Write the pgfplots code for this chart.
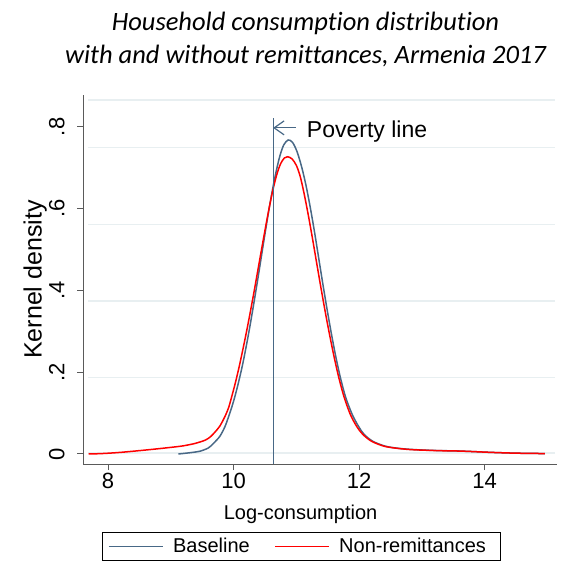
\documentclass[border=0pt]{standalone}
\usepackage{fontspec}
\setmainfont{Liberation Sans}
\newfontfamily\titlefont[Ligatures=NoCommon]{Carlito}
\usepackage{pgfplots}
\pgfplotsset{compat=1.18}
\usetikzlibrary{arrows.meta}

\definecolor{slate}{RGB}{72,104,134}
\definecolor{gridc}{RGB}{232,239,241}
\definecolor{axisc}{RGB}{90,90,90}

\begin{document}
\begin{tikzpicture}
\begin{scope}
\clip (0,0) rectangle (569pt,562pt);

% two-line italic title
\node[anchor=base, font=\titlefont\itshape\fontsize{26.5}{30}\selectfont, inner sep=0pt]
  at (305.5pt,531.3pt) {Household consumption distribution};
\node[anchor=base, font=\titlefont\itshape\fontsize{26.5}{30}\selectfont, inner sep=0pt]
  at (305.5pt,498.7pt) {with and without remittances, Armenia 2017};

\begin{axis}[
  at={(83pt,98pt)}, anchor=south west,
  scale only axis, width=474pt, height=369pt,
  xmin=7.6, xmax=15.155, ymin=-0.0245, ymax=0.878,
  axis x line*=bottom, axis y line*=left,
  axis line style={-, draw=axisc, line width=1pt},
  tick style={draw=axisc, line width=1pt},
  tick align=outside, major tick length=6pt,
  xtick={8,10,12,14}, xticklabels={8,10,12,14},
  ytick={0,0.2,0.4,0.6,0.8}, yticklabels={0,.2,.4,.6,.8},
  xticklabel style={font=\fontsize{22}{26}\selectfont},
  yticklabel style={font=\fontsize{22}{26}\selectfont, xshift=-9pt, rotate=90, anchor=south},
  xlabel={Log-consumption},
  ylabel={Kernel density},
  xlabel style={font=\fontsize{20}{24}\selectfont, at={(axis description cs:0.459,-0.1499)}, anchor=base},
  ylabel style={font=\fontsize{25}{30}\selectfont, at={(axis description cs:-0.0871,0.5)}, anchor=base},
  legend columns=2,
  legend style={at={(axis description cs:0.0395,-0.1835)}, anchor=north west,
    draw=black, line width=0.8pt, font=\fontsize{20}{24}\selectfont,
    inner xsep=6.3pt, inner ysep=6pt,
    nodes={inner sep=0pt},
    /tikz/every odd column/.append style={column sep=9.7pt},
    /tikz/every even column/.append style={column sep=24.7pt}},
  grid line/.style={draw=gridc, line width=1.2pt, forget plot},
]

% light horizontal rules of the plot region
\addplot[grid line] coordinates {(7.68,0.0024) (15.12,0.0024)};
\addplot[grid line] coordinates {(7.68,0.188) (15.12,0.188)};
\addplot[grid line] coordinates {(7.68,0.374) (15.12,0.374)};
\addplot[grid line] coordinates {(7.68,0.561) (15.12,0.561)};
\addplot[grid line] coordinates {(7.68,0.749) (15.12,0.749)};
\addplot[grid line] coordinates {(7.68,0.866) (15.12,0.866)};

% baseline consumption density
\addplot[draw=slate, line width=1.5pt, smooth,
  legend image code/.code={\draw[draw=slate, line width=1pt] (0pt,0pt) -- (54pt,0pt);}]
  coordinates {
 (9.12,0) (9.30,0.003) (9.47,0.007) (9.60,0.015) (9.68,0.026) (9.78,0.043)
 (9.86,0.066) (9.92,0.091) (9.97,0.114) (10.02,0.140) (10.08,0.176) (10.14,0.216)
 (10.20,0.262) (10.26,0.312) (10.32,0.366) (10.38,0.422) (10.44,0.480) (10.50,0.538)
 (10.56,0.594) (10.62,0.646) (10.68,0.692) (10.74,0.730) (10.80,0.756) (10.87,0.768)
 (10.94,0.762) (11.01,0.740) (11.08,0.705) (11.15,0.660) (11.22,0.605) (11.29,0.543)
 (11.36,0.476) (11.43,0.409) (11.50,0.345) (11.57,0.285) (11.64,0.230) (11.71,0.182)
 (11.79,0.137) (11.89,0.097) (11.99,0.068) (12.08,0.048) (12.22,0.031) (12.42,0.019)
 (12.62,0.014) (12.80,0.0115) (13.0,0.0098) (13.3,0.0082) (13.56,0.0075) (13.8,0.006)
 (14.09,0.004) (14.5,0.002) (14.96,0.001)
};
\addlegendentry{Baseline}

% density without remittances
\addplot[draw=red, line width=1.5pt, smooth,
  legend image code/.code={\draw[draw=red, line width=1pt] (0pt,0pt) -- (54pt,0pt);}]
  coordinates {
 (7.69,0) (7.9,0.001) (8.2,0.004) (8.62,0.010) (8.99,0.016) (9.2,0.020) (9.39,0.026)
 (9.55,0.034) (9.63,0.042) (9.70,0.053) (9.78,0.068) (9.86,0.091) (9.92,0.113)
 (9.97,0.140) (10.03,0.175) (10.09,0.214) (10.15,0.257) (10.21,0.302) (10.27,0.350)
 (10.33,0.400) (10.39,0.452) (10.45,0.504) (10.51,0.555) (10.57,0.604) (10.63,0.648)
 (10.69,0.684) (10.75,0.710) (10.81,0.724) (10.86,0.727) (10.93,0.722) (11.00,0.706)
 (11.06,0.680) (11.12,0.640) (11.19,0.585) (11.26,0.525) (11.33,0.462) (11.40,0.400)
 (11.47,0.340) (11.54,0.284) (11.61,0.232) (11.68,0.185) (11.76,0.140) (11.86,0.097)
 (11.96,0.068) (12.06,0.048) (12.2,0.031) (12.4,0.019) (12.6,0.014) (12.8,0.011)
 (13.0,0.0095) (13.3,0.008) (13.56,0.0073) (13.8,0.006) (14.09,0.004) (14.5,0.002)
 (14.96,0.001)
};
\addlegendentry{Non-remittances\hspace*{7.7pt}}

% poverty line marker
\addplot[draw=slate, line width=1.2pt, forget plot] coordinates {(10.63,-0.0245) (10.63,0.822)};
\addplot[draw=slate, line width=1.2pt, forget plot, {Straight Barb[length=10pt,width=14pt]}-]
  coordinates {(10.63,0.7976) (11.0,0.7976)};
\node[anchor=base west, inner sep=0pt, font=\fontsize{23}{27}\selectfont]
  at (axis cs:11.167,0.775) {Poverty line};
\end{axis}
\end{scope}
\pgfresetboundingbox
\path[use as bounding box] (0,0) rectangle (569pt,562pt);
\end{tikzpicture}
\end{document}
